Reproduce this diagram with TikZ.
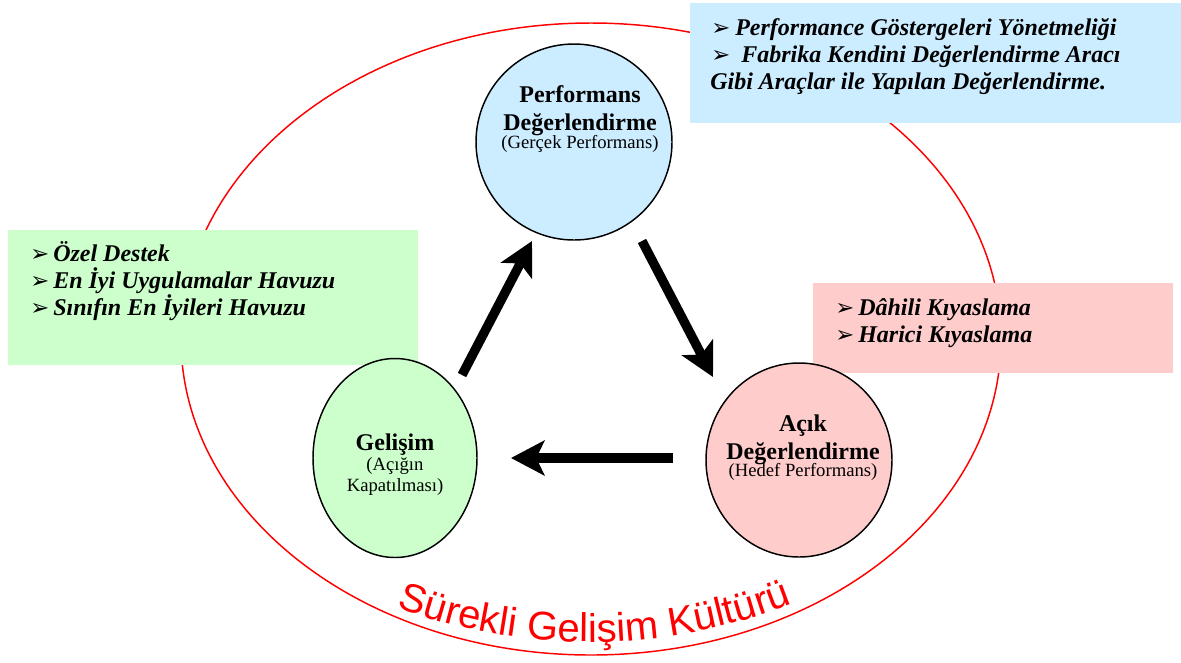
\documentclass[tikz,border=0pt]{standalone}
\usepackage{fontspec}
\setmainfont{Liberation Serif}
\newfontfamily\arialfont{Liberation Sans}
\newfontfamily\dvfont{DejaVu Sans}
\usetikzlibrary{arrows.meta,shapes.geometric,decorations.text}
\definecolor{boxblue}{HTML}{CCECFF}
\definecolor{boxgreen}{HTML}{CCFFCC}
\definecolor{boxpink}{HTML}{FFCCCC}
\newcommand{\arrbul}{{\normalfont\dvfont\fontsize{17}{17}\selectfont ➢}}
\begin{document}
\begin{tikzpicture}[x=0.75pt,y=-0.75pt,
  cyc/.style={ellipse, draw=black, line width=1.1pt, inner sep=0pt},
  infobox/.style={rectangle, inner sep=0pt, anchor=north west},
  bigarrow/.style={line width=7pt, -{Stealth[length=25pt,width=26pt,inset=6pt]}},
  boxline/.style={anchor=base west, inner sep=0pt, font=\fontsize{18}{20}\selectfont\bfseries\itshape},
  head/.style={anchor=base, inner sep=0pt, font=\fontsize{18}{20}\selectfont\bfseries},
  sub/.style={anchor=base, inner sep=0pt, font=\fontsize{14}{16}\selectfont}
]
\useasboundingbox (0,0) rectangle (1181,662);
\fill[white] (0,0) rectangle (1181,662);

% outer culture ellipse
\node[ellipse, draw=red, line width=1.1pt, inner sep=0pt, minimum width=615pt, minimum height=474pt] (outer) at (591,339) {};

% info boxes
\node[infobox, fill=boxblue, minimum width=368.25pt, minimum height=90pt] (bbox) at (690,3) {};
\node[infobox, fill=boxgreen, minimum width=307.5pt, minimum height=101.25pt] (gbox) at (8,230) {};
\node[infobox, fill=boxpink, minimum width=270pt, minimum height=67.5pt] (pbox) at (813,283) {};

\node[boxline] (b1) at (711,35) {\makebox[18pt][l]{\arrbul}Performance Göstergeleri Yönetmeliği};
\node[boxline] (b2) at (711,62) {\makebox[22.5pt][l]{\arrbul}Fabrika Kendini Değerlendirme Aracı};
\node[boxline] (b3) at (710,89) {Gibi Araçlar ile Yapılan Değerlendirme.};

\node[boxline] (g1) at (30,261) {\makebox[17.25pt][l]{\arrbul}Özel Destek};
\node[boxline] (g2) at (30,288) {\makebox[17.25pt][l]{\arrbul}En İyi Uygulamalar Havuzu};
\node[boxline] (g3) at (30,315) {\makebox[17.25pt][l]{\arrbul}Sınıfın En İyileri Havuzu};

\node[boxline] (p1) at (835,315) {\makebox[17.25pt][l]{\arrbul}Dâhili Kıyaslama};
\node[boxline] (p2) at (835,342) {\makebox[17.25pt][l]{\arrbul}Harici Kıyaslama};

% cycle circles
\node[cyc, fill=boxblue, minimum width=147pt, minimum height=147pt] (perf) at (574,142) {};
\node[cyc, fill=boxgreen, minimum width=123pt, minimum height=149.25pt] (gel) at (395,458) {};
\node[cyc, fill=boxpink, minimum width=139.5pt, minimum height=145.5pt] (acik) at (799,460) {};

\node[head] (perf1) at (580,102) {Performans};
\node[head] (perf2) at (580,130) {Değerlendirme};
\node[sub] (perf3) at (580,148) {(Gerçek Performans)};

\node[head] (gel1) at (395,450) {Gelişim};
\node[sub] (gel2) at (395,470) {(Açığın};
\node[sub] (gel3) at (395,491) {Kapatılması)};

\node[head] (acik1) at (803,431) {Açık};
\node[head] (acik2) at (803,459) {Değerlendirme};
\node[sub] (acik3) at (803,476) {(Hedef Performans)};

% arrows
\coordinate (upS) at (462,375);
\coordinate (upE) at (532,241);
\coordinate (dnS) at (642,241);
\coordinate (dnE) at (713,377);
\coordinate (lfS) at (673,458);
\coordinate (lfE) at (511,458);
\draw[bigarrow] (upS) -- (upE);
\draw[bigarrow] (dnS) -- (dnE);
\draw[bigarrow] (lfS) -- (lfE);

% curved title
\coordinate (arcC) at (590,87);
\path[decorate, decoration={text along path, text color=red, text align=center,
  text={|\arialfont\fontsize{30}{30}\selectfont|Sürekli Gelişim Kültürü}}]
  (arcC) ++(118:555) arc[start angle=118, end angle=61, radius=555];
\end{tikzpicture}
\end{document}
